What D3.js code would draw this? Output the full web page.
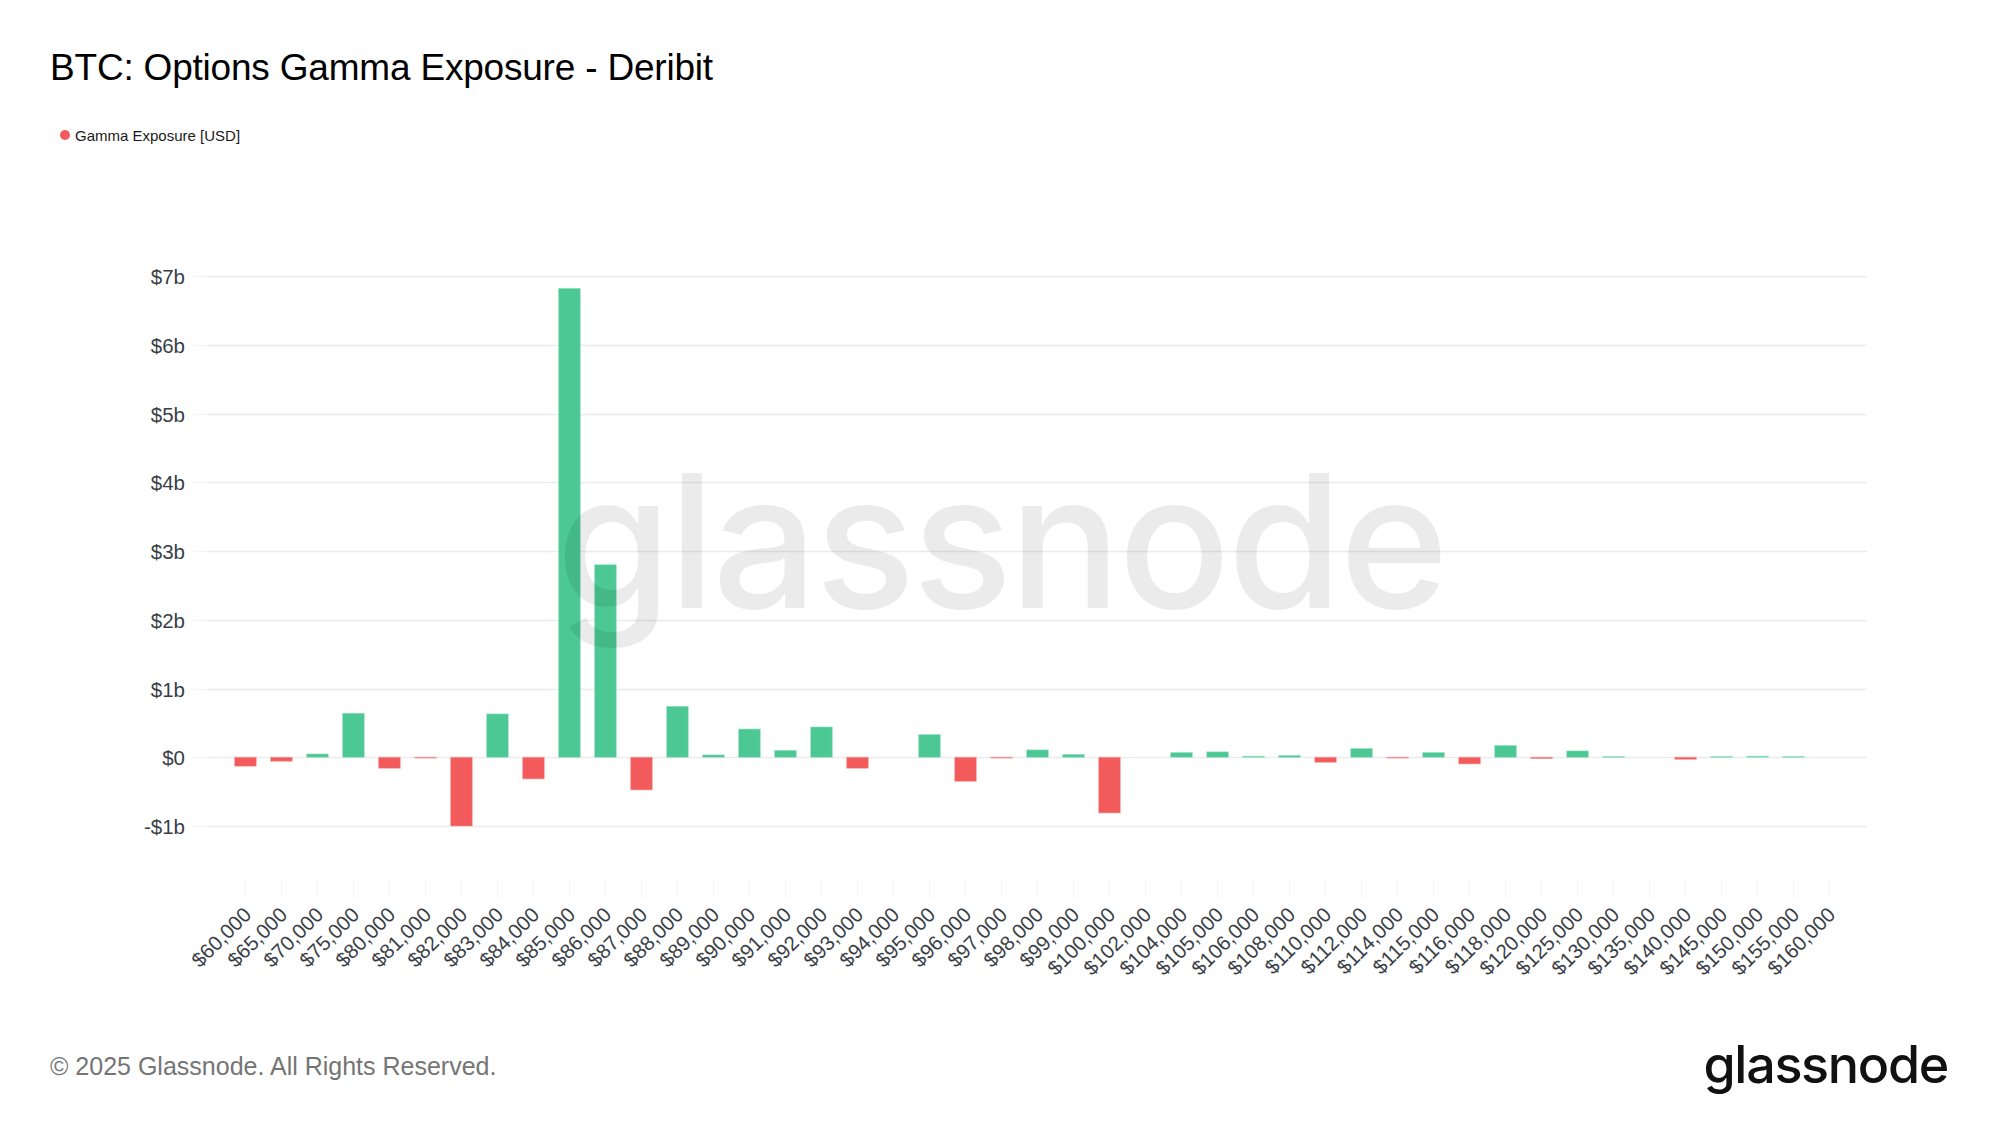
<!DOCTYPE html>
<html>
<head>
<meta charset="utf-8">
<script src="https://cdn.jsdelivr.net/npm/d3@7"></script>
<style>
  html, body { margin: 0; padding: 0; background: #ffffff; }
  svg { display: block; }
</style>
</head>
<body>
<svg id="chart" width="2000" height="1125"></svg>
<script>
// Strike prices (USD) for the Deribit BTC option chain
const strikes = [
  60000, 65000, 70000, 75000, 80000, 81000, 82000, 83000, 84000, 85000,
  86000, 87000, 88000, 89000, 90000, 91000, 92000, 93000, 94000, 95000,
  96000, 97000, 98000, 99000, 100000, 102000, 104000, 105000, 106000, 108000,
  110000, 112000, 114000, 115000, 116000, 118000, 120000, 125000, 130000, 135000,
  140000, 145000, 150000, 155000, 160000
];

// Dealer gamma exposure per strike, in billions of USD
const gammaExposureB = [
  -0.13, -0.058, 0.048, 0.64, -0.16, -0.012, -1.0, 0.63, -0.315, 6.82,
  2.80, -0.475, 0.74, 0.034, 0.41, 0.10, 0.44, -0.16, 0, 0.33,
  -0.35, -0.012, 0.107, 0.04, -0.81, 0, 0.068, 0.078, 0.015, 0.025,
  -0.073, 0.126, -0.012, 0.068, -0.097, 0.17, -0.02, 0.092, 0.01, 0,
  -0.03, 0.01, 0.015, 0.01, 0
];

// Y axis ticks (billions of USD)
const yTicksB = [-1, 0, 1, 2, 3, 4, 5, 6, 7];

const data = strikes.map((s, i) => ({ strike: s, value: gammaExposureB[i] * 1e9 }));

const GREEN = "#4bc893";
const RED = "#f35a5b";

const svg = d3.select("#chart");

const plotLeft = 208, plotRight = 1867;

const x = d3.scaleBand()
  .domain(strikes)
  .range([plotLeft, plotRight])
  .paddingInner(0.4)
  .paddingOuter(0.74);

const y = d3.scaleLinear()
  .domain([-1e9, 7e9])
  .range([826, 276]);

const fmtStrike = d3.format("$,");
const fmtY = v => (v < 0 ? "-$" : "$") + Math.abs(v / 1e9) + (v === 0 ? "" : "b");

// Title
svg.append("text")
  .attr("x", 50).attr("y", 80)
  .attr("font-family", "'Liberation Sans', Arial, sans-serif")
  .attr("font-size", 37)
  .attr("letter-spacing", -0.2)
  .attr("fill", "#000")
  .text("BTC: Options Gamma Exposure - Deribit");

// Legend
svg.append("circle")
  .attr("cx", 65).attr("cy", 135).attr("r", 5)
  .attr("fill", RED);
svg.append("text")
  .attr("x", 75).attr("y", 140.5)
  .attr("font-family", "'Liberation Sans', Arial, sans-serif")
  .attr("font-size", 15)
  .attr("fill", "#1a1a1a")
  .text("Gamma Exposure [USD]");

// Horizontal grid + y labels
const yAxis = svg.append("g");
yTicksB.forEach(t => {
  const yy = Math.round(y(t * 1e9)) + 0.5;
  yAxis.append("line")
    .attr("x1", 193).attr("x2", plotLeft)
    .attr("y1", yy).attr("y2", yy)
    .attr("stroke", "#f4f4f4").attr("stroke-width", 1.5);
  yAxis.append("line")
    .attr("x1", plotLeft).attr("x2", plotRight)
    .attr("y1", yy).attr("y2", yy)
    .attr("stroke", "#ebebeb").attr("stroke-width", 1.5);
  yAxis.append("text")
    .attr("x", 185).attr("y", yy)
    .attr("dy", "0.36em")
    .attr("text-anchor", "end")
    .attr("font-family", "'Liberation Sans', Arial, sans-serif")
    .attr("font-size", 20.5)
    .attr("fill", "#3a3f47")
    .text(fmtY(t * 1e9));
});

// X axis (ticks + rotated strike labels)
const xAxisY = 880;
const xAxis = svg.append("g")
  .attr("transform", `translate(0,${xAxisY})`)
  .call(d3.axisBottom(x).tickSize(18).tickFormat(fmtStrike));
xAxis.select(".domain").remove();
xAxis.selectAll(".tick line").attr("stroke", "#f6f6f6").attr("stroke-width", 1);
xAxis.selectAll(".tick text")
  .attr("font-family", "'Liberation Sans', Arial, sans-serif")
  .attr("font-size", 20.5)
  .attr("fill", "#3a3f47")
  .attr("text-anchor", "end")
  .attr("x", 0).attr("y", 0).attr("dy", 0)
  .attr("transform", "translate(7,36) rotate(-45)");

// Bars
svg.append("g").selectAll("rect")
  .data(data)
  .join("rect")
  .attr("x", d => x(d.strike))
  .attr("width", x.bandwidth())
  .attr("y", d => y(Math.max(0, d.value)))
  .attr("height", d => Math.abs(y(d.value) - y(0)))
  .attr("fill", d => d.value >= 0 ? GREEN : RED)
  .attr("stroke", d => d.value >= 0 ? "#8fe0bd" : "#f99a9a")
  .attr("stroke-width", 0.8)
  .attr("stroke-opacity", 0.7);

// Watermark
svg.append("text")
  .attr("x", 1001).attr("y", 608)
  .attr("text-anchor", "middle")
  .attr("font-family", "Inter, 'Liberation Sans', sans-serif")
  .attr("font-size", 186)
  .attr("font-weight", 500)
  .attr("letter-spacing", -3)
  .attr("fill", "#000")
  .attr("fill-opacity", 0.08)
  .text("glassnode");

// Footer
svg.append("text")
  .attr("x", 50).attr("y", 1075)
  .attr("font-family", "'Liberation Sans', Arial, sans-serif")
  .attr("font-size", 25)
  .attr("fill", "#757575")
  .text("© 2025 Glassnode. All Rights Reserved.");

svg.append("text")
  .attr("x", 1948).attr("y", 1083)
  .attr("text-anchor", "end")
  .attr("font-family", "Inter, 'Liberation Sans', sans-serif")
  .attr("font-size", 52)
  .attr("font-weight", 500)
  .attr("letter-spacing", -1.3)
  .attr("fill", "#111")
  .text("glassnode");
</script>
</body>
</html>
